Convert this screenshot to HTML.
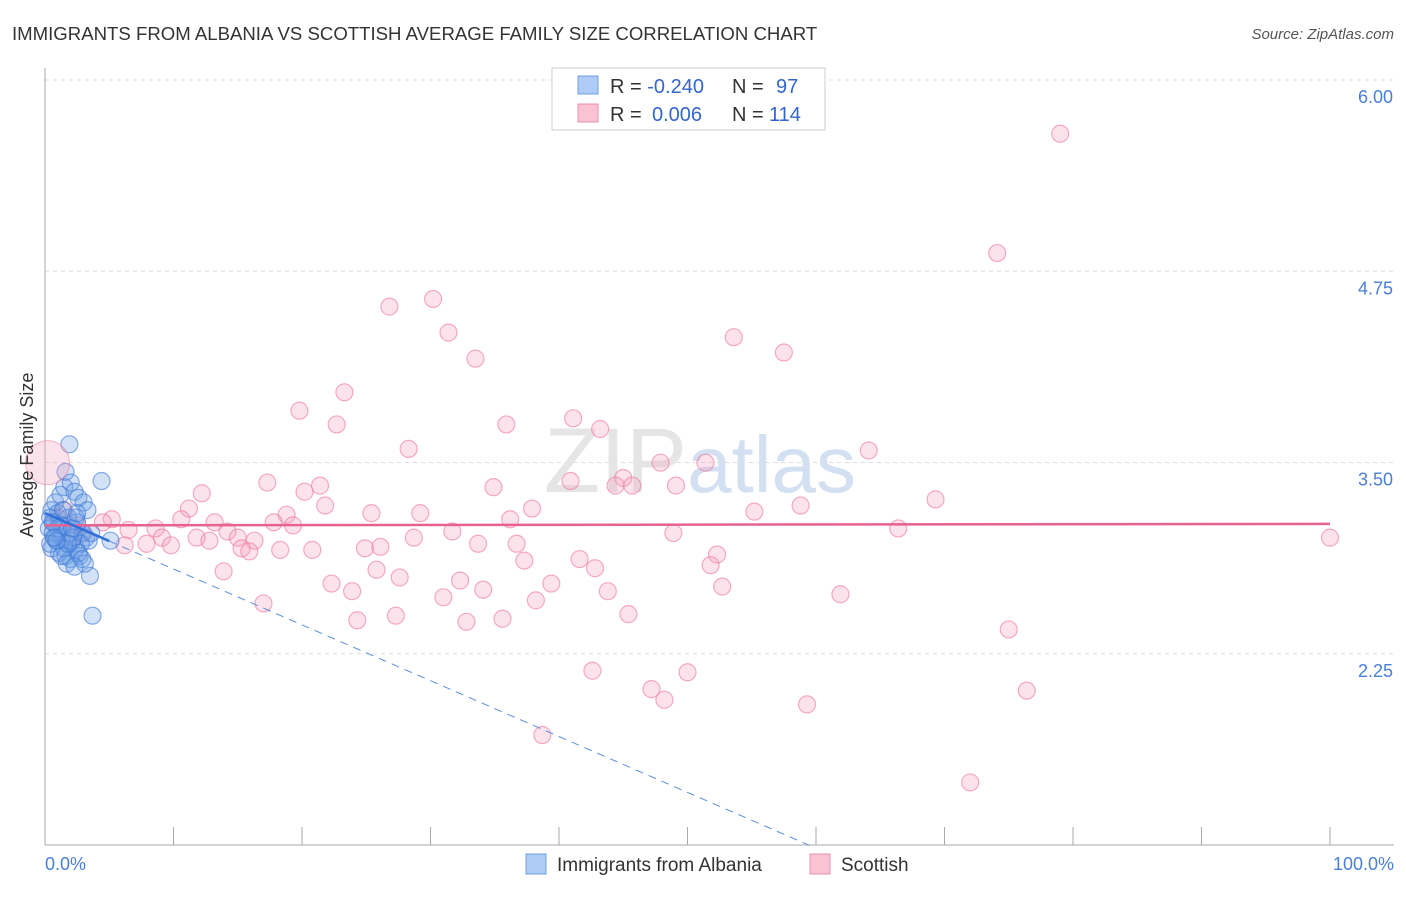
<!DOCTYPE html>
<html><head><meta charset="utf-8"><style>
body{margin:0;background:#fff;font-family:"Liberation Sans",sans-serif;}
svg text{font-family:"Liberation Sans",sans-serif;}
</style></head><body>
<svg width="1406" height="892">
<text x="12" y="40" font-size="18.6" fill="#333">IMMIGRANTS FROM ALBANIA VS SCOTTISH AVERAGE FAMILY SIZE CORRELATION CHART</text>
<text x="1394" y="39" font-size="15" fill="#555" font-style="italic" text-anchor="end">Source: ZipAtlas.com</text>
<g id="grid"></g>
<text x="700" y="492" font-size="92" fill="#e5e5e5" text-anchor="middle" font-family="Liberation Serif">ZIP<tspan fill="#d2e0f2" font-family="Liberation Sans" font-size="80">atlas</tspan></text>
<g id="pts"></g>
<g id="lines"></g>
<text x="33" y="455" font-size="18" fill="#333" transform="rotate(-90 33 455)" text-anchor="middle">Average Family Size</text>
<text x="45" y="870" font-size="18" fill="#4a7fd6">0.0%</text>
<text x="1394" y="870" font-size="18" fill="#4a7fd6" text-anchor="end">100.0%</text>
<g>
<rect x="552" y="68" width="273" height="62" fill="#fff" stroke="#ccc"/>
<rect x="578" y="76" width="20" height="18" fill="#aeccf5" stroke="#6fa0e6"/>
<rect x="578" y="104" width="20" height="18" fill="#f9c3d3" stroke="#ec8fae"/>
<text x="610" y="93" font-size="20" fill="#333">R = <tspan fill="#3366cc">-0.240</tspan><tspan x="732">N = </tspan><tspan fill="#3366cc" x="776">97</tspan></text>
<text x="610" y="121" font-size="20" fill="#333">R = <tspan fill="#3366cc" x="652">0.006</tspan><tspan x="732">N = </tspan><tspan fill="#3366cc" x="769">114</tspan></text>
</g>
<g>
<rect x="526" y="854" width="20" height="20" fill="#aeccf5" stroke="#6fa0e6"/>
<text x="557" y="871" font-size="19" fill="#333">Immigrants from Albania</text>
<rect x="810" y="854" width="20" height="20" fill="#f9c3d3" stroke="#ec8fae"/>
<text x="841" y="871" font-size="19" fill="#333">Scottish</text>
</g>
</svg>
<script>
const yTicks=[6.00,4.75,3.50,2.25];
const pinkX=[79.0,74.1,26.8,30.2,31.4,33.5,53.6,57.5,23.3,19.8,22.7,41.1,43.2,35.9,28.3,64.1,47.9,51.4,40.9,45.0,44.4,45.7,49.1,34.9,17.3,21.4,20.2,12.2,69.3,58.8,21.8,11.2,37.9,25.4,29.2,55.2,18.8,36.2,10.6,13.2,17.8,19.3,5.2,4.5,8.6,6.5,14.2,31.7,66.4,48.9,11.8,9.1,15.0,16.3,12.8,28.7,33.7,100,6.2,7.9,9.8,15.3,15.9,18.3,20.8,24.9,26.1,36.7,52.3,41.6,37.3,51.8,42.8,13.9,25.8,27.6,32.3,22.3,39.4,52.7,34.1,23.9,43.8,31.0,38.2,61.9,17.0,45.4,27.3,35.6,24.3,32.8,75.0,42.6,50.0,47.2,48.2,76.4,59.3,38.7,72.0,1.5,2.5,3.0,1.0,2.0];
const pinkY=[5.76,4.98,4.63,4.68,4.46,4.29,4.43,4.33,4.07,3.95,3.86,3.90,3.83,3.86,3.70,3.69,3.61,3.61,3.49,3.51,3.46,3.46,3.46,3.45,3.48,3.46,3.42,3.41,3.37,3.33,3.33,3.31,3.31,3.28,3.28,3.29,3.27,3.24,3.24,3.22,3.22,3.20,3.24,3.22,3.18,3.17,3.16,3.16,3.18,3.15,3.12,3.12,3.12,3.10,3.10,3.12,3.08,3.12,3.07,3.08,3.07,3.05,3.03,3.04,3.04,3.05,3.06,3.08,3.01,2.98,2.97,2.94,2.92,2.90,2.91,2.86,2.84,2.82,2.82,2.80,2.78,2.77,2.77,2.73,2.71,2.75,2.69,2.62,2.61,2.59,2.58,2.57,2.52,2.25,2.24,2.13,2.06,2.12,2.03,1.83,1.52,3.30,3.20,3.15,3.25,3.10];
const blueX=[1.9,4.4,1.6,3.5,3.7,5.1,0.5,0.8,1.2,1.5,2.0,2.3,2.6,3.0,3.3,0.4,0.7,1.0,1.4,1.8,2.2,2.5,2.9,3.2,0.3,0.6,0.9,1.3,1.7,2.1,2.4,2.8,3.4,0.5,1.1,1.6,2.0,2.7,3.1,0.8,1.2,1.9,2.4,0.4,1.0,1.5,2.2,2.6,1.7,2.9,0.6,1.4,2.1,1.8,3.6,0.9,2.3,1.3,0.7,2.5];
const blueY=[3.73,3.49,3.55,2.87,2.61,3.10,3.30,3.35,3.40,3.45,3.48,3.42,3.38,3.35,3.30,3.25,3.22,3.28,3.20,3.25,3.18,3.22,3.15,3.12,3.18,3.15,3.10,3.12,3.08,3.10,3.05,3.08,3.10,3.05,3.02,3.00,2.98,3.00,2.95,3.12,3.20,3.15,3.25,3.08,3.18,3.05,3.12,3.02,2.95,2.98,3.22,3.30,3.18,3.08,3.15,3.10,2.93,3.00,3.12,3.28];
const X0=45,X1=1330,YT=97,PPU=153;
const sx=p=>X0+p*(X1-X0)/100;
const sy=v=>YT+(6-v)*PPU;
const NS='http://www.w3.org/2000/svg';
function mk(t,a,parent){const e=document.createElementNS(NS,t);for(const k in a)e.setAttribute(k,a[k]);parent.appendChild(e);return e;}
const grid=document.getElementById('grid');
let fl=mk('line',{x1:X0,y1:80,x2:1394,y2:80,stroke:'#ddd','stroke-dasharray':'4,4'},grid);


yTicks.forEach(v=>{
 const l=mk('line',{x1:X0,y1:sy(v)-17,x2:1394,y2:sy(v)-17,stroke:'#ddd','stroke-dasharray':'4,4'},grid);
 
 
 const t=mk('text',{x:1393,y:sy(v)+6,'font-size':18,fill:'#4a7fd6','text-anchor':'end'},grid);
 t.textContent=v.toFixed(2);
 
 
});
let ax=mk('line',{x1:X0,y1:68,x2:X0,y2:845,stroke:'#aaa'},grid);


let bx=mk('line',{x1:X0,y1:845,x2:1394,y2:845,stroke:'#aaa'},grid);


for(let i=0;i<=10;i++){const k=mk('line',{x1:sx(i*10),y1:827,x2:sx(i*10),y2:845,stroke:'#aaa'},grid);
 
 }
const pts=document.getElementById('pts');
pinkX.forEach((p,i)=>{const c=mk('circle',{cx:sx(p),cy:sy(pinkY[i]),r:8.5,fill:'rgba(244,160,188,0.3)',stroke:'rgba(236,120,160,0.6)','stroke-width':1.2},pts);
 
 });
blueX.forEach((p,i)=>{const c=mk('circle',{cx:sx(p),cy:sy(blueY[i]),r:8.5,fill:'rgba(110,160,230,0.3)',stroke:'rgba(60,120,215,0.6)','stroke-width':1.2},pts);
 
 });
const big=mk('circle',{cx:sx(0.2),cy:sy(3.61),r:22,fill:'rgba(244,160,188,0.3)',stroke:'rgba(236,120,160,0.5)'},pts);


const lines=document.getElementById('lines');
const pinkA=3.20,pinkB=0.0001,blueA=3.28,blueB=-0.0365;
let pl=mk('line',{x1:sx(0),y1:sy(pinkA),x2:sx(100),y2:sy(pinkA+pinkB*100),stroke:'#e8628e','stroke-width':2.5},lines);


let bl1=mk('line',{x1:sx(0),y1:sy(blueA),x2:sx(5),y2:sy(blueA+blueB*5),stroke:'#2f6fd8','stroke-width':2.5},lines);


let bl2=mk('line',{x1:sx(5),y1:sy(blueA+blueB*5),x2:sx(59.5),y2:sy(blueA+blueB*59.5),stroke:'#5b8fdf','stroke-width':1,'stroke-dasharray':'8,6'},lines);


</script>
</body></html>
